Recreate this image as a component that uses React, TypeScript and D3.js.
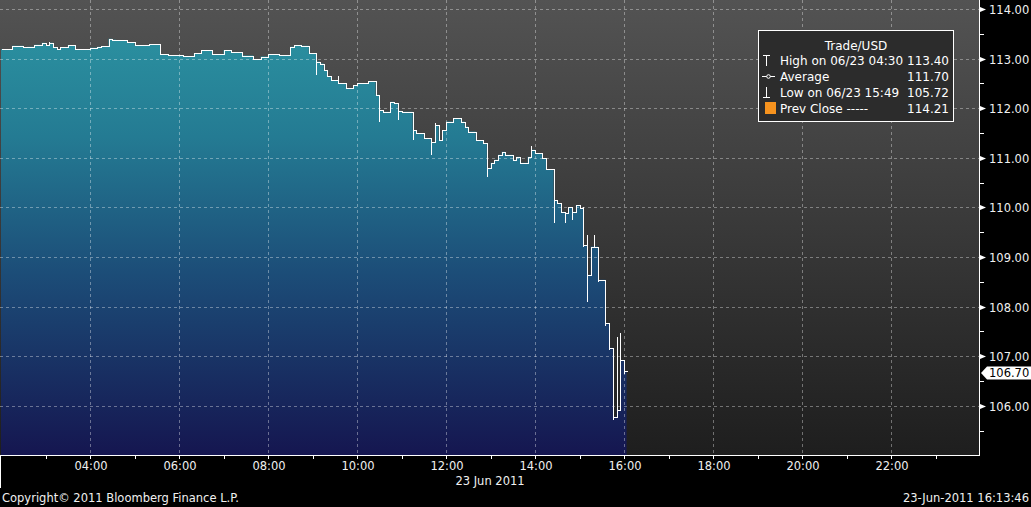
import React from "react";
import * as d3 from "d3";

const W = 1031;
const H = 507;

// 5-minute bars starting at 02:00 (minutes after midnight)
const barStartMinutes = 120;
const barMinutes = 5;
const closes = [
  113.19, 113.19, 113.19, 113.26, 113.26, 113.26, 113.23, 113.24, 113.24, 113.28,
  113.28, 113.32, 113.27, 113.32, 113.23, 113.19, 113.23, 113.23, 113.27, 113.27,
  113.19, 113.19, 113.19, 113.19, 113.22, 113.22, 113.24, 113.25, 113.25, 113.40,
  113.38, 113.37, 113.37, 113.37, 113.33, 113.33, 113.27, 113.27, 113.27, 113.27,
  113.29, 113.29, 113.29, 113.09, 113.09, 113.07, 113.07, 113.07, 113.07, 113.05,
  113.05, 113.05, 113.11, 113.11, 113.17, 113.17, 113.17, 113.09, 113.09, 113.09,
  113.17, 113.17, 113.13, 113.13, 113.13, 113.06, 113.06, 113.06, 112.99, 112.99,
  113.04, 113.04, 113.09, 113.09, 113.09, 113.07, 113.07, 113.07, 113.24, 113.27,
  113.27, 113.26, 113.26, 113.11, 113.11, 112.94, 112.90, 112.77, 112.64, 112.57,
  112.57, 112.50, 112.50, 112.40, 112.40, 112.47, 112.51, 112.51, 112.51, 112.55,
  112.55, 112.27, 111.96, 111.93, 111.93, 112.13, 112.10, 111.95, 111.93, 111.93,
  111.93, 111.56, 111.49, 111.49, 111.39, 111.39, 111.32, 111.66, 111.36, 111.56,
  111.73, 111.73, 111.80, 111.80, 111.73, 111.63, 111.53, 111.53, 111.36, 111.36,
  111.30, 110.79, 110.90, 110.96, 111.06, 111.12, 111.06, 111.06, 110.96, 111.02,
  110.90, 110.90, 111.02, 111.16, 111.09, 111.09, 110.99, 110.77, 110.77, 110.15,
  110.09, 109.91, 109.89, 110.01, 109.91, 110.05, 109.98, 109.24, 108.64, 109.21,
  109.21, 108.54, 108.54, 107.67, 107.17, 105.78, 105.92, 106.92, 106.70,
];

// extra wick extremes (bar index, low, high)
const wickBars = [13, 85, 91, 102, 107, 111, 116, 117, 131, 143, 149, 152, 154, 157, 158, 160, 161, 163, 164, 165, 166, 167, 168];
const wickLows = [113.27, 112.67, 112.50, 111.73, 111.76, 111.36, 111.06, 111.30, 110.62, 111.09, 109.69, 109.69, 109.74, 109.21, 108.09, 109.21, 108.50, 107.60, 107.13, 105.72, 105.90, 106.90, 106.65];
const wickHighs = [113.33, 113.00, 112.64, 112.00, 112.10, 111.93, 111.39, 111.70, 111.30, 111.24, 110.77, 109.91, 110.01, 110.00, 109.44, 109.44, 109.08, 108.20, 107.39, 107.17, 107.39, 107.47, 106.92];

const xTickMinutes = [240, 360, 480, 600, 720, 840, 960, 1080, 1200, 1320];
const xTickLabels = ["04:00", "06:00", "08:00", "10:00", "12:00", "14:00", "16:00", "18:00", "20:00", "22:00"];
const yTickValues = [106, 107, 108, 109, 110, 111, 112, 113, 114];
const lastPrice = 106.7;

const legendTitle = "Trade/USD";
const legendLabels = ["High on 06/23 04:30", "Average", "Low on 06/23 15:49", "Prev Close -----"];
const legendValues = ["113.40", "111.70", "105.72", "114.21"];
const dateLabel = "23 Jun 2011";
const copyright = "Copyright\u00A9 2011 Bloomberg Finance L.P.";
const stamp = "23-Jun-2011 16:13:46";

const FONT = "'DejaVu Sans', Verdana, sans-serif";

export default function App() {
  const plotRight = 979;
  const plotBottom = 455;
  const x = d3.scaleLinear().domain([120, 1440]).range([1, 980]);
  const y = d3.scaleLinear().domain([105, 114]).range([455.4, 9]);

  const pts = closes.map((c, i) => ({ t: barStartMinutes + i * barMinutes, c }));
  const ptsExt = [...pts, { t: barStartMinutes + closes.length * barMinutes - 1.5, c: closes[closes.length - 1] }];

  const area = d3
    .area<{ t: number; c: number }>()
    .curve(d3.curveStepAfter)
    .x((d) => x(d.t))
    .y0(plotBottom)
    .y1((d) => y(d.c));
  const line = d3
    .line<{ t: number; c: number }>()
    .curve(d3.curveStepAfter)
    .x((d) => Math.round(x(d.t)) + 0.5)
    .y((d) => Math.round(y(d.c)) + 0.5);

  const hourTicks = d3.range(3, 24).map((h) => h * 60);
  const minorY = d3.range(105, 114.01, 0.5).filter((v) => v % 1 !== 0);

  const ly = y(lastPrice) + 2;

  return (
    <svg
      width={W}
      height={H}
      style={{ position: "fixed", left: 0, top: 0, background: "#000", display: "block" }}
      fontFamily={FONT}
    >
      <defs>
        <linearGradient id="bg" x1="0" y1="0" x2="0" y2={plotBottom} gradientUnits="userSpaceOnUse">
          <stop offset="0" stopColor="#535353" />
          <stop offset="0.5" stopColor="#393939" />
          <stop offset="1" stopColor="#1e1e1e" />
        </linearGradient>
        <linearGradient id="fill" x1="0" y1="0" x2="0" y2={plotBottom} gradientUnits="userSpaceOnUse">
          <stop offset="0" stopColor="#2d97a4" />
          <stop offset="0.3" stopColor="#247b93" />
          <stop offset="0.6" stopColor="#1c4d78" />
          <stop offset="1" stopColor="#151650" />
        </linearGradient>
      </defs>
      <rect x={0} y={0} width={W} height={H} fill="#000" />
      <rect x={0} y={0} width={plotRight} height={plotBottom} fill="url(#bg)" />
      <path d={area(ptsExt) ?? ""} fill="url(#fill)" />

      {/* grid */}
      <g stroke="rgba(255,255,255,0.36)" strokeWidth={1} strokeDasharray="3,3">
        {yTickValues.map((v) => (
          <line key={"gy" + v} x1={0} x2={plotRight} y1={Math.round(y(v)) + 0.5} y2={Math.round(y(v)) + 0.5} />
        ))}
        {xTickMinutes.map((m) => (
          <line key={"gx" + m} x1={Math.round(x(m)) + 0.5} x2={Math.round(x(m)) + 0.5} y1={0} y2={plotBottom} />
        ))}
      </g>

      {/* price line */}
      <path d={line(ptsExt) ?? ""} fill="none" stroke="#fff" strokeWidth={1} shapeRendering="crispEdges" />
      <g stroke="#fff" strokeWidth={1} shapeRendering="crispEdges">
        {wickBars.map((b, k) => {
          const xx = Math.round(x(barStartMinutes + b * barMinutes)) + 0.5;
          return <line key={"w" + k} x1={xx} x2={xx} y1={y(wickHighs[k])} y2={y(wickLows[k])} />;
        })}
      </g>

      {/* legend */}
      <g>
        <rect x={758.5} y={30.5} width={195} height={91} fill="#2c2c2c" stroke="#fff" strokeWidth={1} />
        <text x={856} y={50} fill="#fff" fontSize={12} textAnchor="middle">
          {legendTitle}
        </text>
        {legendLabels.map((lab, i) => (
          <g key={"lg" + i}>
            <text x={780} y={65 + i * 16} fill="#fff" fontSize={12}>
              {lab}
            </text>
            <text x={949} y={65 + i * 16} fill="#fff" fontSize={12} textAnchor="end">
              {legendValues[i]}
            </text>
          </g>
        ))}
        <g stroke="#fff" strokeWidth={1} fill="none">
          <line x1={766.5} x2={766.5} y1={55} y2={66} />
          <line x1={763} x2={770} y1={55.5} y2={55.5} />
          <line x1={762} x2={775} y1={76.5} y2={76.5} />
          <circle cx={768.5} cy={76.5} r={1.8} fill="#2c2c2c" />
          <line x1={766.5} x2={766.5} y1={87} y2={98} />
          <line x1={763} x2={770} y1={97.5} y2={97.5} />
        </g>
        <rect x={765} y={102} width={11} height={12} fill="#f7931e" />
      </g>

      {/* right axis */}
      <g shapeRendering="crispEdges">
        <line x1={979.5} x2={979.5} y1={0} y2={plotBottom} stroke="#fff" />
        {minorY.map((v) => (
          <line key={"my" + v} x1={980} x2={984} y1={Math.round(y(v)) + 0.5} y2={Math.round(y(v)) + 0.5} stroke="#fff" />
        ))}
      </g>
      {yTickValues.map((v) => {
        const yy = Math.round(y(v)) + 0.5;
        return (
          <g key={"yt" + v}>
            <path d={`M980,${yy - 2.5}L986,${yy}L980,${yy + 2.5}Z`} fill="#fff" />
            <text x={989} y={yy + 4} fill="#f0f0f0" fontSize={11.5}>
              {v.toFixed(2)}
            </text>
          </g>
        );
      })}
      <path
        d={`M981,${ly}L987,${ly - 6.5}L1031,${ly - 6.5}L1031,${ly + 6.5}L987,${ly + 6.5}Z`}
        fill="#fff"
      />
      <text x={989} y={ly + 4} fill="#000" fontSize={11.5}>
        {lastPrice.toFixed(2)}
      </text>

      {/* bottom axis */}
      <g stroke="#fff" strokeWidth={1} shapeRendering="crispEdges">
        <line x1={0} x2={980} y1={455.5} y2={455.5} />
        <line x1={0.5} x2={0.5} y1={455} y2={488} />
        {hourTicks.map((m) => (
          <line key={"ht" + m} x1={Math.round(x(m)) + 0.5} x2={Math.round(x(m)) + 0.5} y1={455} y2={459} />
        ))}
      </g>
      {xTickMinutes.map((m, i) => (
        <text key={"xl" + m} x={x(m) + 1} y={470} fill="#f0f0f0" fontSize={11.5} textAnchor="middle">
          {xTickLabels[i]}
        </text>
      ))}
      <text x={490} y={485} fill="#f0f0f0" fontSize={11.5} textAnchor="middle">
        {dateLabel}
      </text>
      <text x={2} y={502} fill="#f0f0f0" fontSize={11.5}>
        {copyright}
      </text>
      <text x={1029} y={502} fill="#f0f0f0" fontSize={11.5} textAnchor="end">
        {stamp}
      </text>
    </svg>
  );
}
